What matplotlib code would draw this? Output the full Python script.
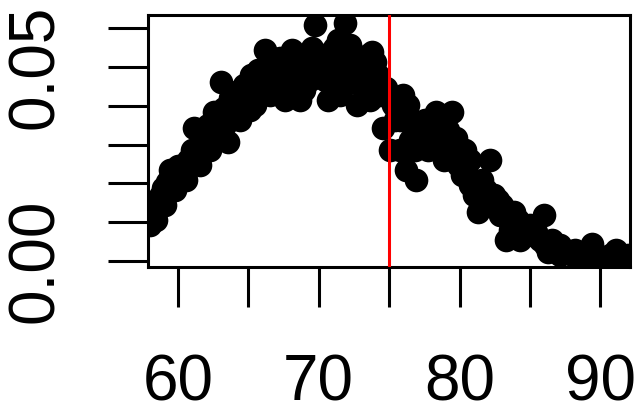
import matplotlib
matplotlib.use("Agg")
import matplotlib.pyplot as plt

plt.rcParams['font.family'] = ['Liberation Sans', 'DejaVu Sans']

# values
x_vals = [
    58.44, 58.58, 58.72, 58.93, 59.22, 59.43, 59.72, 60.00, 60.28, 60.57,
    60.71, 60.99, 61.14, 61.35, 61.56, 61.78, 61.99, 62.13, 62.41, 62.56,
    62.84, 63.05, 63.27, 63.55, 63.69, 63.91, 64.12, 64.40, 64.69, 64.97,
    65.18, 65.40, 65.47, 65.68, 65.97, 66.18, 66.39, 66.53, 66.68, 66.96,
    67.24, 67.53, 67.60, 67.81, 68.10, 68.38, 68.66, 68.66, 68.95, 69.23,
    69.52, 69.73, 69.94, 70.23, 70.44, 70.65, 70.80, 71.08, 71.36, 71.51,
    71.58, 71.86, 72.07, 72.22, 72.50, 72.71, 72.93, 73.21, 73.49, 73.64,
    73.78, 73.99, 74.20, 74.56, 74.77, 75.06, 75.27, 75.48, 75.77, 75.98,
    76.19, 76.33, 76.62, 76.90, 77.19, 77.47, 77.75, 78.04, 78.32, 78.61,
    78.89, 79.18, 79.46, 79.74, 79.89, 80.17, 80.45, 80.74, 81.02, 81.31,
    81.59, 81.87, 82.16, 82.44, 82.73, 83.01, 83.30, 83.58, 83.86, 84.15,
    84.43, 84.79, 85.14, 85.43, 85.71, 85.99, 86.28, 86.56, 86.85, 87.13,
    87.41, 87.70, 88.12, 88.55, 88.98, 89.40, 89.83, 90.25, 90.68, 91.11,
    91.53, 91.96,
    # second pass, filling the band
    58.00, 59.08, 59.79, 60.50, 61.56, 62.27, 62.63, 63.34, 64.40, 65.11,
    66.18, 67.95, 69.38, 71.15, 71.86, 72.93, 73.78, 74.35, 75.41, 75.77,
    76.48, 76.83, 77.54, 78.61, 79.32, 80.38, 80.74, 81.45, 82.16, 82.87,
    83.58, 84.29, 85.00, 86.07, 87.13, 88.20, 89.26, 90.68,
]
y_vals = [
    0.0106, 0.0137, 0.0168, 0.0188, 0.0204, 0.0235, 0.0219, 0.0245, 0.0229, 0.0209,
    0.0260, 0.0286, 0.0343, 0.0273, 0.0299, 0.0317, 0.0286, 0.0350, 0.0332, 0.0384,
    0.0363, 0.0461, 0.0394, 0.0307, 0.0420, 0.0407, 0.0436, 0.0420, 0.0454, 0.0428,
    0.0479, 0.0446, 0.0402, 0.0492, 0.0466, 0.0544, 0.0497, 0.0428, 0.0518, 0.0487,
    0.0523, 0.0466, 0.0415, 0.0513, 0.0544, 0.0492, 0.0518, 0.0415, 0.0441, 0.0523,
    0.0549, 0.0608, 0.0497, 0.0531, 0.0466, 0.0415, 0.0505, 0.0549, 0.0570, 0.0428,
    0.0539, 0.0613, 0.0513, 0.0557, 0.0472, 0.0402, 0.0523, 0.0492, 0.0531, 0.0415,
    0.0539, 0.0513, 0.0479, 0.0343, 0.0446, 0.0286, 0.0402, 0.0420, 0.0363, 0.0428,
    0.0235, 0.0402, 0.0363, 0.0209, 0.0338, 0.0312, 0.0286, 0.0312, 0.0384, 0.0299,
    0.0260, 0.0338, 0.0384, 0.0317, 0.0247, 0.0222, 0.0235, 0.0196, 0.0170, 0.0126,
    0.0209, 0.0183, 0.0260, 0.0170, 0.0157, 0.0144, 0.0054, 0.0119, 0.0126, 0.0106,
    0.0093, 0.0085, 0.0067, 0.0075, 0.0054, 0.0119, 0.0023, 0.0054, 0.0041, 0.0041,
    0.0028, 0.0023, 0.0013, 0.0008, 0.0023, 0.0044, 0.0013, 0.0008, 0.0015, 0.0028,
    0.0008, 0.0015,
    0.0093, 0.0145, 0.0183, 0.0235, 0.0247, 0.0286, 0.0312, 0.0350, 0.0363, 0.0389,
    0.0454, 0.0454, 0.0466, 0.0481, 0.0454, 0.0454, 0.0454, 0.0428, 0.0363, 0.0286,
    0.0312, 0.0286, 0.0363, 0.0350, 0.0286, 0.0286, 0.0260, 0.0170, 0.0157, 0.0119,
    0.0080, 0.0054, 0.0093, 0.0041, 0.0015, 0.0028, 0.0008, 0.0000,
]
cutoff = 75

x_ticks = [60, 65, 70, 75, 80, 85, 90]
x_labels = ['60', '', '70', '', '80', '', '90']
y_ticks = [0.00, 0.01, 0.02, 0.03, 0.04, 0.05, 0.06]
y_labels = ['0.00', '', '', '', '', '0.05', '']

fig = plt.figure(figsize=(6.35, 4.11), dpi=100)
ax = fig.add_axes([0.233, 0.350, 0.759, 0.6135])

ax.scatter(x_vals, y_vals, s=290, color='black', linewidths=0, zorder=2)
ax.axvline(cutoff, color='red', lw=2.2, zorder=3)

ax.set_xlim(57.87, 92.1)
ax.set_ylim(-0.00155, 0.0634)

ax.set_xticks(x_ticks)
ax.set_xticklabels(x_labels)
ax.set_yticks(y_ticks)
ax.set_yticklabels(y_labels, rotation=90, va='center')

ax.tick_params(axis='both', direction='out', length=29, width=2.2,
               labelsize=46, colors='black')
ax.tick_params(axis='x', pad=33)
ax.tick_params(axis='y', pad=30)
for sp in ax.spines.values():
    sp.set_linewidth(2.2)

fig.savefig("out.png", dpi=100)
